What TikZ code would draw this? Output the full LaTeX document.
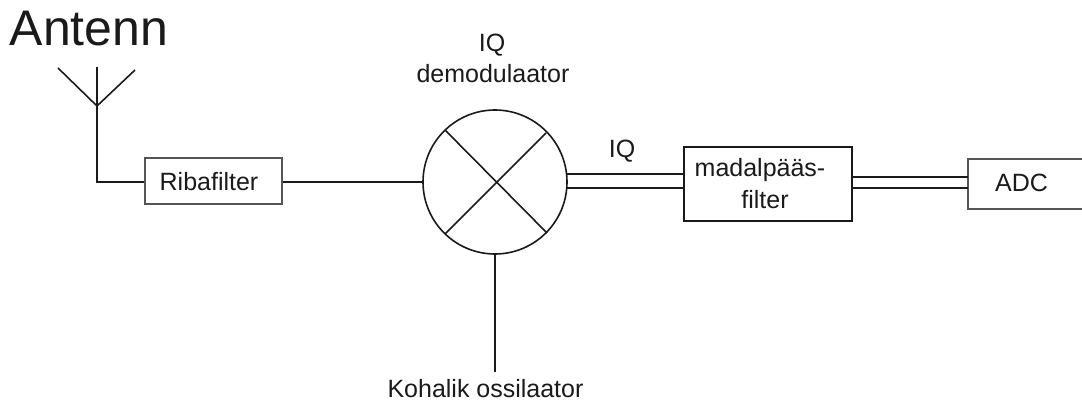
\documentclass[tikz,border=0pt]{standalone}
\usepackage{fontspec}
\setmainfont{Liberation Sans}
\definecolor{ink}{HTML}{1A1A1A}
\definecolor{softink}{HTML}{555555}
\tikzset{
  wire/.style={draw=ink,line width=1.6pt},
  boxshape/.style={rectangle,draw=ink,line width=1.6pt,inner sep=0pt,fill=white},
  softbox/.style={boxshape,draw=softink},
  label/.style={inner sep=0pt,text=ink,font=\fontsize{25}{25}\selectfont,anchor=base},
}
\begin{document}
\begin{tikzpicture}[x=1pt,y=-1pt]
\useasboundingbox (0,0) rectangle (1082,401);
\clip (0,0) rectangle (1082,401);
% antenna
\coordinate (tip) at (97,106);
\coordinate (armL) at (58,68);
\coordinate (armM) at (97,67);
\coordinate (armR) at (135,70);
\coordinate (bend) at (97,182);
\node[softbox,minimum width=137pt,minimum height=46pt] (riba) at (213.5,181) {};
\node[circle,draw=ink,line width=1.6pt,minimum size=144pt,inner sep=0pt] (mix) at (495,182) {};
\node[boxshape,minimum width=168pt,minimum height=74pt] (lpf) at (768,184) {};
\node[softbox,minimum width=130pt,minimum height=50pt] (adc) at (1033,184) {};
\coordinate (xa) at (445,130);
\coordinate (xb) at (547,233);
\coordinate (xc) at (546,133);
\coordinate (xd) at (445,234);
\coordinate (lo) at (495,372);
\coordinate (iqa1) at (567,174);
\coordinate (iqa2) at (684,174);
\coordinate (iqb1) at (567,188);
\coordinate (iqb2) at (684,188);
\coordinate (ada1) at (852,177);
\coordinate (ada2) at (968,177);
\coordinate (adb1) at (852,188);
\coordinate (adb2) at (968,188);
\draw[wire] (armL) -- (tip) -- (armR);
\draw[wire] (armM) -- (tip);
\draw[wire] (tip) -- (bend) -- (bend -| riba.west);
\draw[wire] (mix.west -| riba.east) -- (mix.west);
\draw[wire] (xa) -- (xb);
\draw[wire] (xc) -- (xd);
\draw[wire] (mix.south) -- (lo);
\draw[wire] (iqa1) -- (iqa2);
\draw[wire] (iqb1) -- (iqb2);
\draw[wire] (ada1) -- (ada2);
\draw[wire] (adb1) -- (adb2);
\node[label,font=\fontsize{50}{50}\selectfont] (antenn) at (89,46) {Antenn};
\node[label] (t1) at (492,52) {IQ};
\node[label] (t2) at (493,83) {demodulaator};
\node[label] (t3) at (622,158) {IQ};
\node[label] (t4) at (209,190) {Ribafilter};
\node[label] (t5) at (760,176) {madalpääs-};
\node[label] (t6) at (765,208) {filter};
\node[label] (t7) at (1021.5,192) {ADC};
\node[label] (t8) at (485.5,397) {Kohalik ossilaator};
\end{tikzpicture}
\end{document}
